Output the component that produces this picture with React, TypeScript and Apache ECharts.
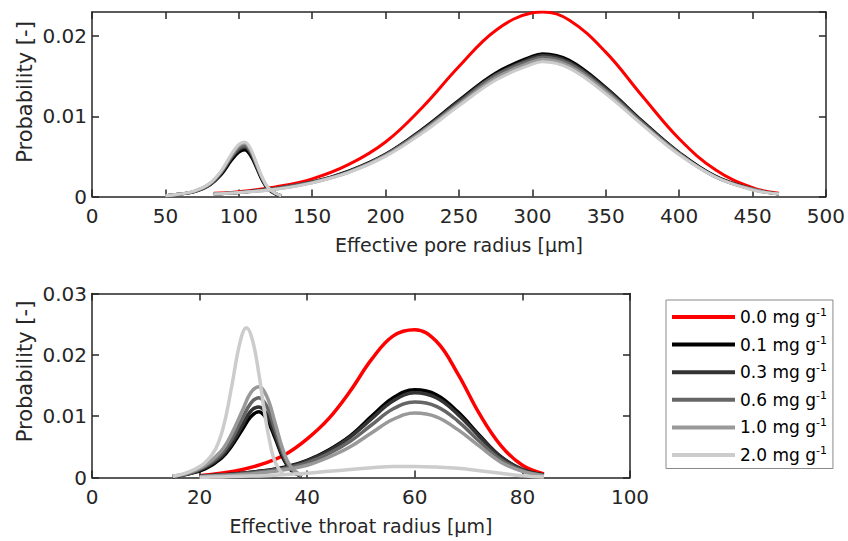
import React, { useEffect, useRef } from 'react';
import * as echarts from 'echarts';

const FONT = 'DejaVu Sans';
const TEXT = '#262626';

// Legend / series names and colours
const seriesNames = ['0.0 mg g-1', '0.1 mg g-1', '0.3 mg g-1', '0.6 mg g-1', '1.0 mg g-1', '2.0 mg g-1'];
const seriesColors = ['#ff0000', '#000000', '#333333', '#666666', '#999999', '#cccccc'];

// ---------- Top panel: effective pore radius ----------
const poreTicksX = { min: 0, max: 500, interval: 50 };
const poreTicksY = { min: 0, max: 0.023, interval: 0.01 };

// large-pore mode (all concentrations)
const poreMainX = [83, 100, 125, 150, 175, 200, 225, 250, 275, 300, 307, 325, 350, 375, 400, 425, 450, 468];
const poreMain00 = [0.0004, 0.0006, 0.0012, 0.0022, 0.0040, 0.0068, 0.0111, 0.0162, 0.0207, 0.0229, 0.0230, 0.0220, 0.0180, 0.0125, 0.0072, 0.0033, 0.0011, 0.0004];
const poreMain01 = [0.0003, 0.0005, 0.0010, 0.0018, 0.0032, 0.0053, 0.0084, 0.0120, 0.0154, 0.0175, 0.0178, 0.0170, 0.0136, 0.0094, 0.0055, 0.0025, 0.0009, 0.0003];
const poreMain03 = [0.0003, 0.0005, 0.0010, 0.0018, 0.0031, 0.0052, 0.0083, 0.0119, 0.0152, 0.0173, 0.0176, 0.0168, 0.0135, 0.0093, 0.0054, 0.0025, 0.0009, 0.0003];
const poreMain06 = [0.0003, 0.0005, 0.0010, 0.0018, 0.0031, 0.0052, 0.0082, 0.0117, 0.0151, 0.0171, 0.0174, 0.0166, 0.0133, 0.0092, 0.0054, 0.0024, 0.0009, 0.0003];
const poreMain10 = [0.0003, 0.0005, 0.0009, 0.0017, 0.0030, 0.0051, 0.0081, 0.0115, 0.0148, 0.0168, 0.0171, 0.0163, 0.0131, 0.0090, 0.0053, 0.0024, 0.0009, 0.0003];
const poreMain20 = [0.0003, 0.0005, 0.0009, 0.0017, 0.0030, 0.0050, 0.0079, 0.0113, 0.0145, 0.0165, 0.0168, 0.0160, 0.0128, 0.0089, 0.0052, 0.0024, 0.0008, 0.0003];

// small-pore mode (treated samples)
const poreSmallX = [50, 60, 70, 80, 88, 95, 100, 104, 108, 112, 116, 120, 125, 129];
const poreSmall01 = [0.0001, 0.0003, 0.0006, 0.0014, 0.0027, 0.0045, 0.0055, 0.0058, 0.0051, 0.0036, 0.0020, 0.0009, 0.0003, 0.0001];
const poreSmall03 = [0.0001, 0.0003, 0.0006, 0.0014, 0.0029, 0.0048, 0.0058, 0.0061, 0.0054, 0.0038, 0.0022, 0.0010, 0.0004, 0.0001];
const poreSmall06 = [0.0001, 0.0003, 0.0006, 0.0015, 0.0030, 0.0049, 0.0060, 0.0063, 0.0056, 0.0039, 0.0022, 0.0010, 0.0004, 0.0001];
const poreSmall10 = [0.0001, 0.0003, 0.0007, 0.0016, 0.0031, 0.0051, 0.0063, 0.0066, 0.0058, 0.0041, 0.0023, 0.0011, 0.0004, 0.0001];
const poreSmall20 = [0.0001, 0.0003, 0.0007, 0.0016, 0.0032, 0.0053, 0.0065, 0.0068, 0.0060, 0.0042, 0.0024, 0.0011, 0.0004, 0.0001];

// ---------- Bottom panel: effective throat radius ----------
const throatTicksX = { min: 0, max: 100, interval: 20 };
const throatTicksY = { min: 0, max: 0.03, interval: 0.01 };

const throatMainX = [20, 24, 28, 32, 36, 40, 44, 48, 52, 56, 60, 64, 68, 72, 76, 80, 84];
const throatMain00 = [0.0003, 0.0007, 0.0013, 0.0023, 0.0038, 0.0063, 0.0096, 0.0141, 0.0193, 0.0231, 0.0241, 0.0222, 0.0169, 0.0104, 0.0052, 0.0020, 0.0006];
const throatMain01 = [0.0002, 0.0004, 0.0007, 0.0011, 0.0017, 0.0028, 0.0045, 0.0068, 0.0100, 0.0130, 0.0143, 0.0135, 0.0107, 0.0069, 0.0034, 0.0013, 0.0004];
const throatMain03 = [0.0002, 0.0004, 0.0007, 0.0011, 0.0016, 0.0027, 0.0043, 0.0066, 0.0096, 0.0125, 0.0138, 0.0130, 0.0103, 0.0067, 0.0033, 0.0013, 0.0004];
const throatMain06 = [0.0002, 0.0004, 0.0006, 0.0010, 0.0015, 0.0024, 0.0039, 0.0059, 0.0086, 0.0112, 0.0123, 0.0116, 0.0092, 0.0059, 0.0029, 0.0011, 0.0003];
const throatMain10 = [0.0001, 0.0003, 0.0005, 0.0008, 0.0013, 0.0020, 0.0033, 0.0050, 0.0073, 0.0095, 0.0105, 0.0099, 0.0078, 0.0051, 0.0025, 0.0010, 0.0003];
const throatMain20 = [0.0000, 0.0001, 0.0002, 0.0003, 0.0005, 0.0007, 0.0010, 0.0013, 0.0016, 0.0018, 0.0018, 0.0017, 0.0015, 0.0011, 0.0007, 0.0003, 0.0001];

const throatSmallX = [15, 18, 21, 24, 26, 28, 29.5, 31, 32.5, 34, 35.5, 37, 39];
const throatSmall01 = [0.0001, 0.0006, 0.0014, 0.0031, 0.0052, 0.0079, 0.0099, 0.0107, 0.0095, 0.0065, 0.0032, 0.0012, 0.0002];
const throatSmall03 = [0.0002, 0.0006, 0.0016, 0.0034, 0.0056, 0.0086, 0.0108, 0.0115, 0.0103, 0.0070, 0.0035, 0.0013, 0.0002];
const throatSmall06 = [0.0002, 0.0007, 0.0018, 0.0038, 0.0063, 0.0097, 0.0121, 0.0130, 0.0116, 0.0079, 0.0040, 0.0015, 0.0003];
const throatSmall10 = [0.0002, 0.0008, 0.0020, 0.0043, 0.0072, 0.0110, 0.0138, 0.0148, 0.0132, 0.0090, 0.0045, 0.0017, 0.0003];
const throatSmall20X = [15, 17, 19, 21, 23, 24.5, 26, 27.5, 28.7, 29.8, 31, 32, 33, 34, 35.5];
const throatSmall20 = [0.0002, 0.0006, 0.0013, 0.0024, 0.0047, 0.0085, 0.0150, 0.0220, 0.0244, 0.0225, 0.0170, 0.0110, 0.0060, 0.0026, 0.0005];

const pairs = (xs: number[], ys: number[]) => xs.map((x, i) => [x, ys[i]]);

const axisLineStyle = { color: TEXT, width: 1.5 };

function xAxes(grid: number, t: { min: number; max: number; interval: number }, name: string) {
  return [
    {
      type: 'value', gridIndex: grid, position: 'bottom', min: t.min, max: t.max, interval: t.interval,
      axisLine: { show: true, onZero: false, lineStyle: axisLineStyle },
      axisTick: { show: true, inside: true, length: 7, lineStyle: axisLineStyle },
      axisLabel: { show: true, fontSize: 20, fontFamily: FONT, color: TEXT, margin: 9 },
      splitLine: { show: false },
      name, nameLocation: 'middle', nameGap: 39,
      nameTextStyle: { fontSize: 19, fontFamily: FONT, color: TEXT },
    },
    {
      type: 'value', gridIndex: grid, position: 'top', min: t.min, max: t.max, interval: t.interval,
      axisLine: { show: true, onZero: false, lineStyle: axisLineStyle },
      axisTick: { show: true, inside: true, length: 7, lineStyle: axisLineStyle },
      axisLabel: { show: false },
      splitLine: { show: false },
    },
  ];
}

function yAxes(grid: number, t: { min: number; max: number; interval: number }) {
  return [
    {
      type: 'value', gridIndex: grid, position: 'left', min: t.min, max: t.max, interval: t.interval,
      axisLine: { show: true, onZero: false, lineStyle: axisLineStyle },
      axisTick: { show: true, inside: true, length: 7, lineStyle: axisLineStyle },
      axisLabel: { show: true, fontSize: 20, fontFamily: FONT, color: TEXT, margin: 5, showMaxLabel: t.max === 0.03 },
      splitLine: { show: false },
    },
    {
      type: 'value', gridIndex: grid, position: 'right', min: t.min, max: t.max, interval: t.interval,
      axisLine: { show: true, onZero: false, lineStyle: axisLineStyle },
      axisTick: { show: true, inside: true, length: 7, lineStyle: axisLineStyle },
      axisLabel: { show: false },
      splitLine: { show: false },
    },
  ];
}

function line(nameIdx: number, xAxisIndex: number, yAxisIndex: number, data: number[][], width: number) {
  return {
    type: 'line', name: seriesNames[nameIdx], xAxisIndex, yAxisIndex, data,
    smooth: 0.4, showSymbol: false, symbol: 'none',
    lineStyle: { color: seriesColors[nameIdx], width },
    itemStyle: { color: seriesColors[nameIdx] },
    emphasis: { disabled: true },
  };
}

export default function App() {
  const ref = useRef<HTMLDivElement>(null);
  useEffect(() => {
    document.body.style.margin = '0';
    if (!ref.current) return;
    const chart = echarts.init(ref.current, null, { renderer: 'svg' });
    const W1 = 3;
    const W2 = 3.5;
    const series = [
      // top panel
      line(0, 0, 0, pairs(poreMainX, poreMain00), W1),
      line(1, 0, 0, pairs(poreMainX, poreMain01), W1),
      line(1, 0, 0, pairs(poreSmallX, poreSmall01), W1),
      line(2, 0, 0, pairs(poreMainX, poreMain03), W1),
      line(2, 0, 0, pairs(poreSmallX, poreSmall03), W1),
      line(3, 0, 0, pairs(poreMainX, poreMain06), W1),
      line(3, 0, 0, pairs(poreSmallX, poreSmall06), W1),
      line(4, 0, 0, pairs(poreMainX, poreMain10), W1),
      line(4, 0, 0, pairs(poreSmallX, poreSmall10), W1),
      line(5, 0, 0, pairs(poreMainX, poreMain20), W1),
      line(5, 0, 0, pairs(poreSmallX, poreSmall20), W1),
      // bottom panel
      line(0, 2, 2, pairs(throatMainX, throatMain00), W2),
      line(1, 2, 2, pairs(throatMainX, throatMain01), W2),
      line(1, 2, 2, pairs(throatSmallX, throatSmall01), W2),
      line(2, 2, 2, pairs(throatMainX, throatMain03), W2),
      line(2, 2, 2, pairs(throatSmallX, throatSmall03), W2),
      line(3, 2, 2, pairs(throatMainX, throatMain06), W2),
      line(3, 2, 2, pairs(throatSmallX, throatSmall06), W2),
      line(4, 2, 2, pairs(throatMainX, throatMain10), W2),
      line(4, 2, 2, pairs(throatSmallX, throatSmall10), W2),
      line(5, 2, 2, pairs(throatMainX, throatMain20), W2),
      line(5, 2, 2, pairs(throatSmall20X, throatSmall20), W2),
    ];
    chart.setOption({
      animation: false,
      backgroundColor: '#ffffff',
      textStyle: { fontFamily: FONT },
      grid: [
        { left: 92, top: 12, width: 734, height: 184.5 },
        { left: 92, top: 293.5, width: 538, height: 184 },
      ],
      xAxis: [
        ...xAxes(0, poreTicksX, 'Effective pore radius [µm]'),
        ...xAxes(1, throatTicksX, 'Effective throat radius [µm]'),
      ],
      yAxis: [...yAxes(0, poreTicksY), ...yAxes(1, throatTicksY)],
      legend: {
        data: seriesNames,
        orient: 'vertical',
        left: 666,
        top: 300,
        icon: 'rect',
        itemWidth: 63,
        itemHeight: 4,
        itemGap: 9.1,
        padding: [7, 6, 5, 6],
        borderColor: '#8a8a8a',
        borderWidth: 1,
        backgroundColor: '#ffffff',
        selectedMode: false,
        formatter: (name: string) => `{a|${name.slice(0, -2)}}{s|-1}`,
        textStyle: {
          color: '#000000',
          fontFamily: FONT,
          rich: {
            a: { fontSize: 17, fontFamily: FONT, color: '#000000', lineHeight: 20 },
            s: { fontSize: 11, fontFamily: FONT, color: '#000000', lineHeight: 12, verticalAlign: 'top' },
          },
        },
      },
      graphic: [
        {
          type: 'text', x: 25, y: 92, rotation: Math.PI / 2,
          style: { text: 'Probability [-]', fontSize: 21, fontFamily: FONT, fill: TEXT, align: 'center', verticalAlign: 'middle' },
        },
        {
          type: 'text', x: 25, y: 371.5, rotation: Math.PI / 2,
          style: { text: 'Probability [-]', fontSize: 21, fontFamily: FONT, fill: TEXT, align: 'center', verticalAlign: 'middle' },
        },
      ],
      series,
    });
    return () => chart.dispose();
  }, []);
  return <div ref={ref} style={{ width: 848, height: 541 }} />;
}
